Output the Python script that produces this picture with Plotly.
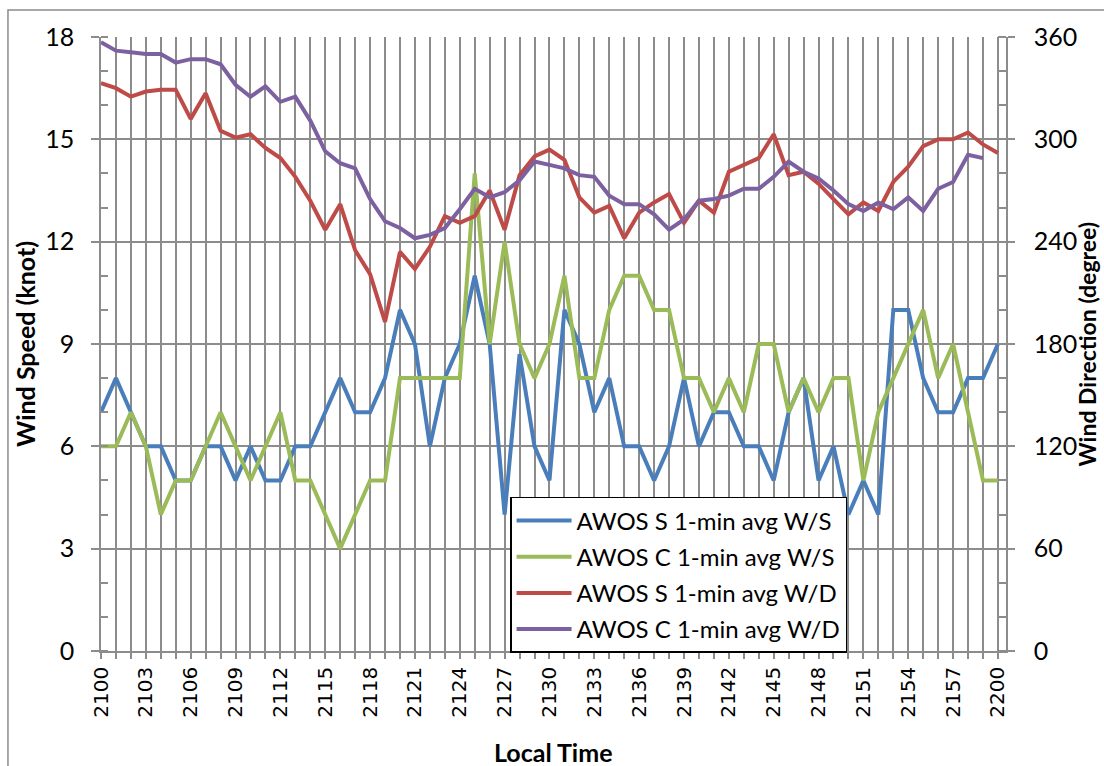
import plotly.graph_objects as go

# Local time stamps, one per minute from 2100 to 2200
times = [str(2100 + m) for m in range(60)] + ["2200"]

# 1-minute average wind speed (knot)
speed_s = [7, 8, 7, 6, 6, 5, 5, 6, 6, 5, 6, 5, 5, 6, 6, 7, 8, 7, 7, 8,
           10, 9, 6, 8, 9, 11, 9, 4, 8.7, 6, 5, 10, 9, 7, 8, 6, 6, 5, 6, 8,
           6, 7, 7, 6, 6, 5, 7, 8, 5, 6, 4, 5, 4, 10, 10, 8, 7, 7, 8, 8,
           9]
speed_c = [6, 6, 7, 6, 4, 5, 5, 6, 7, 6, 5, 6, 7, 5, 5, 4, 3, 4, 5, 5,
           8, 8, 8, 8, 8, 14, 9, 12, 9, 8, 9, 11, 8, 8, 10, 11, 11, 10, 10, 8,
           8, 7, 8, 7, 9, 9, 7, 8, 7, 8, 8, 5, 7, 8, 9, 10, 8, 9, 7, 5,
           5]

# 1-minute average wind direction (degree)
dir_s = [333, 330, 325, 328, 329, 329, 312, 327, 305, 301, 303, 295, 289, 278, 264, 247, 262, 235, 221, 193,
         234, 224, 237, 255, 251, 255, 270, 247, 279, 290, 294, 288, 266, 257, 261, 242, 257, 263, 268, 251,
         264, 257, 281, 285, 289, 303, 279, 281, 274, 265, 256, 263, 258, 275, 284, 296, 300, 300, 304, 297,
         292]
dir_c = [357, 352, 351, 350, 350, 345, 347, 347, 344, 332, 325, 331, 322, 325, 311, 293, 286, 283, 265, 252,
         248, 242, 244, 248, 259, 271, 266, 269, 276, 287, 285, 283, 279, 278, 267, 262, 262, 256, 247, 253,
         264, 265, 267, 271, 271, 278, 287, 281, 277, 270, 262, 258, 263, 259, 266, 258, 271, 275, 291, 289,
         None]

series_names = ["AWOS S 1-min avg W/S", "AWOS C 1-min avg W/S",
                "AWOS S 1-min avg W/D", "AWOS C 1-min avg W/D"]
colors = ["#4A7EBB", "#9BBB59", "#BE4B48", "#7D60A0"]

FONT = "Lato"
TICK_FONT = "DejaVu Sans"
GRID = "#8C8C8C"

fig = go.Figure()
for name, ys, col, axis in zip(series_names, [speed_s, speed_c, dir_s, dir_c], colors,
                               ["y", "y", "y2", "y2"]):
    fig.add_trace(go.Scatter(x=times, y=ys, name=name, mode="lines", yaxis=axis,
                             legendgroup=name,
                             line=dict(color=col, width=4), connectgaps=False))

label_text = [t if i % 3 == 0 else "" for i, t in enumerate(times)]

fig.update_layout(
    width=1104, height=766,
    margin=dict(l=101, r=98, t=37, b=115),
    paper_bgcolor="white", plot_bgcolor="white",
    font=dict(family=FONT, color="#000000"),
    showlegend=True,
    legend=dict(x=0.452, y=0.251, xanchor="left", yanchor="top",
                bordercolor="#000000", borderwidth=1.5, bgcolor="white",
                font=dict(family=FONT, size=24, color="#000000"),
                itemwidth=55, tracegroupgap=2),
    xaxis=dict(type="category", range=[0, 60.54],
               tickmode="array", tickvals=times, ticktext=label_text,
               tickangle=-90, tickfont=dict(family=TICK_FONT, size=20),
               showgrid=True, gridcolor=GRID, gridwidth=1.5,
               showline=True, linecolor=GRID, linewidth=1.5,
               ticks="outside", ticklen=6, tickcolor=GRID, tickwidth=1.5,
               zeroline=False),
    yaxis=dict(range=[0, 18], tickmode="linear", tick0=0, dtick=3,
               tickfont=dict(family=FONT, size=25),
               showgrid=True, gridcolor=GRID, gridwidth=1.5,
               showline=True, linecolor=GRID, linewidth=1.5,
               ticks="outside", ticklen=8, tickcolor=GRID, tickwidth=1.5,
               ticklabelstandoff=12,
               minor=dict(dtick=1, ticks="inside", ticklen=7, tickcolor=GRID,
                          tickwidth=1.5, showgrid=False),
               zeroline=False),
    yaxis2=dict(range=[0, 360], overlaying="y", side="right",
                tickmode="linear", tick0=0, dtick=60,
                tickfont=dict(family=FONT, size=25),
                showgrid=False,
                showline=True, linecolor=GRID, linewidth=1.5,
                ticks="outside", ticklen=7, tickcolor=GRID, tickwidth=1.5,
                ticklabelstandoff=14,
                minor=dict(dtick=20, ticks="inside", ticklen=8, tickcolor=GRID,
                           tickwidth=1.5, showgrid=False),
                zeroline=False),
)

# Axis titles
fig.add_annotation(text="<b>Wind Speed (knot)</b>", xref="paper", yref="paper",
                   x=-0.084, y=0.5, textangle=-90, showarrow=False,
                   font=dict(family=FONT, size=25), xanchor="center", yanchor="middle")
fig.add_annotation(text="<b>Wind Direction (degree)</b>", xref="paper", yref="paper",
                   x=1.09, y=0.5, textangle=-90, showarrow=False,
                   font=dict(family=FONT, size=23), xanchor="center", yanchor="middle")
fig.add_annotation(text="<b>Local Time</b>", xref="paper", yref="paper",
                   x=0.5, y=-0.165, showarrow=False,
                   font=dict(family=FONT, size=25), xanchor="center", yanchor="middle")

# Outer chart frame
fig.add_shape(type="rect", xref="paper", yref="paper",
              x0=-0.1028, y0=-0.3, x1=1.2, y1=1.044,
              line=dict(color="#8C8C8C", width=1.5), layer="below")

fig.write_html("out.html")
